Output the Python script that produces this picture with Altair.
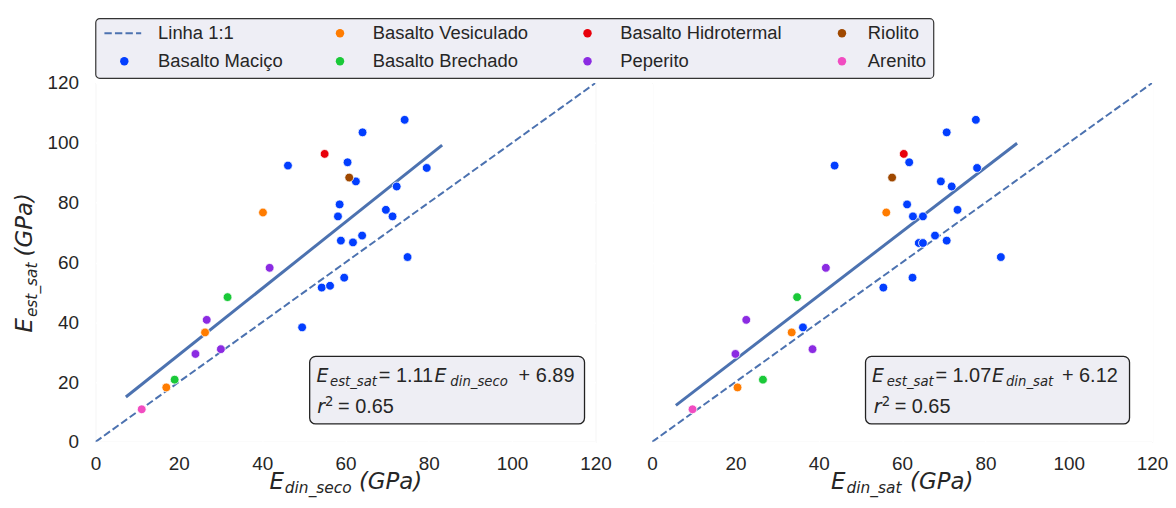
import altair as alt
import pandas as pd

# ---------------- data ----------------
categories = ["Basalto Maciço", "Basalto Vesiculado", "Basalto Brechado",
              "Basalto Hidrotermal", "Peperito", "Riolito", "Arenito"]
category_colors = ["#023eff", "#ff7c00", "#1ac938", "#e8000b", "#8b2be2", "#9f4800", "#f14cc1"]

left_category = (["Basalto Maciço"] * 19 + ["Basalto Vesiculado"] * 3 + ["Basalto Brechado"] * 2
                 + ["Basalto Hidrotermal"] + ["Peperito"] * 4 + ["Riolito"] + ["Arenito"])
left_x = [46.2, 60.5, 58.6, 58.2, 58.9, 61.8, 54.3, 56.3, 59.7, 49.6, 74.2, 64.1, 62.5, 79.5, 72.3, 69.7, 71.3, 64.0, 74.9,
          40.2, 26.3, 17.0,
          31.7, 19.0,
          55.0,
          41.8, 26.7, 24.0, 30.1,
          60.9,
          11.1]
left_y = [92.4, 93.5, 79.4, 75.4, 67.3, 66.7, 51.6, 52.2, 54.9, 38.3, 107.7, 103.5, 87.1, 91.6, 85.4, 77.6, 75.4, 69.0, 61.8,
          76.7, 36.6, 18.2,
          48.4, 20.8,
          96.3,
          58.2, 40.8, 29.4, 31.0,
          88.4,
          10.9]

right_category = left_category
right_x = [43.8, 61.7, 61.2, 62.6, 70.7, 64.0, 55.5, 65.0, 62.5, 36.2, 77.7, 70.7, 69.3, 78.0, 71.9, 73.3, 65.0, 67.9, 83.7,
           56.2, 33.5, 20.5,
           34.8, 26.6,
           60.4,
           41.7, 22.6, 20.0, 38.5,
           57.6,
           9.7]
right_y = [92.4, 93.5, 79.4, 75.4, 67.3, 66.5, 51.6, 66.5, 54.9, 38.3, 107.7, 103.5, 87.1, 91.6, 85.4, 77.6, 75.4, 69.0, 61.8,
           76.7, 36.6, 18.2,
           48.4, 20.8,
           96.3,
           58.2, 40.8, 29.4, 31.0,
           88.4,
           10.9]

identity_x = [0, 120]
left_fit_slope, left_fit_intercept, left_fit_range = 1.11, 6.89, [7.3, 83.2]
right_fit_slope, right_fit_intercept, right_fit_range = 1.07, 6.12, [5.7, 87.6]
r2_text = "= 0.65"
axis_ticks = [0, 20, 40, 60, 80, 100, 120]

# ---------------- style ----------------
W, H = 503, 361
TXT = "#262626"
LINE = "#4c72b0"
MATH = "DejaVu Sans"
SANS = "Liberation Sans"
one = pd.DataFrame({"k": [0]})


def txt(s, x, y, size, italic=False, angle=0, font=MATH, baseline="alphabetic", align="left"):
    kw = dict(text=s, align=align, baseline=baseline, font=font, fontSize=size, color=TXT)
    if italic:
        kw["fontStyle"] = "italic"
    if angle:
        kw["angle"] = angle
    return alt.Chart(one).mark_text(**kw).encode(x=alt.value(x), y=alt.value(y))


def panel(cat, xs, ys, slope, intercept, xr, first, sub_x, ann):
    df = pd.DataFrame({"cat": cat, "x": xs, "y": ys})
    xaxis = alt.Axis(values=axis_ticks, grid=True, gridColor="white", gridWidth=1.4, domain=False,
                     ticks=False, labelFont=SANS, labelFontSize=19, labelColor=TXT, labelPadding=13,
                     labelFlush=False)
    if first:
        yaxis = alt.Axis(values=axis_ticks, grid=True, gridColor="white", gridWidth=1.4, domain=False,
                         ticks=False, labelFont=SANS, labelFontSize=19, labelColor=TXT, labelPadding=17,
                         labelFlush=False)
    else:
        yaxis = alt.Axis(values=axis_ticks, grid=True, gridColor="white", gridWidth=1.4, domain=False,
                         ticks=False, labels=False)
    xs_ = alt.Scale(domain=[0, 120], nice=False, zero=False)
    ys_ = alt.Scale(domain=[0, 120], nice=False, zero=False)

    ident = alt.Chart(pd.DataFrame({"x": identity_x, "y": identity_x})).mark_line(
        color=LINE, strokeWidth=2, strokeDash=[7.4, 3.2], clip=True).encode(
        x=alt.X("x:Q", scale=xs_, axis=xaxis, title=None),
        y=alt.Y("y:Q", scale=ys_, axis=yaxis, title=None))
    fit = alt.Chart(pd.DataFrame({"x": xr, "y": [slope * v + intercept for v in xr]})).mark_line(
        color=LINE, strokeWidth=3).encode(x="x:Q", y="y:Q")
    pts = alt.Chart(df).mark_point(filled=True, size=78, stroke="white", strokeWidth=0.8, opacity=1).encode(
        x="x:Q", y="y:Q",
        color=alt.Color("cat:N", scale=alt.Scale(domain=categories, range=category_colors), legend=None))

    layers = [ident, fit, pts]
    # annotation box
    bx0, bx1 = ann["box"]
    layers.append(alt.Chart(one).mark_rect(fill="#eeeef4", stroke="#222222", strokeWidth=1.3,
                                           cornerRadius=6).encode(
        x=alt.value(bx0), x2=alt.value(bx1), y=alt.value(275), y2=alt.value(343)))
    e1, s1, eq, e2, s2, plus = ann["line1"]
    layers += [
        txt("E", e1, 300.5, 19, italic=True),
        txt("est_sat", s1, 305, 13.3, italic=True),
        txt(ann["eq"], eq, 300.5, 20, font=SANS),
        txt("E", e2, 300.5, 19, italic=True),
        txt(ann["sub"], s2, 305, 13.3, italic=True),
        txt(ann["plus"], plus, 300.5, 20, font=SANS),
        txt("r", 223, 332, 19, italic=True),
        txt("2", 231, 324.5, 13.3),
        txt(r2_text, 244, 332, 20, font=SANS),
    ]
    # x axis title
    ex, sx, gx, label = sub_x
    layers += [
        txt("E", ex, 408, 23, italic=True),
        txt(label, sx, 412, 15.5, italic=True),
        txt("(GPa)", gx, 408, 23, italic=True),
    ]
    if first:
        layers += [
            txt("E", -64, 251, 23, italic=True, angle=270),
            txt("est_sat", -59, 235.5, 15.5, italic=True, angle=270),
            txt("(GPa)", -64, 174.5, 23, italic=True, angle=270),
        ]
    return alt.layer(*layers).properties(width=W, height=H)


left = panel(left_category, left_x, left_y, left_fit_slope, left_fit_intercept, left_fit_range, True,
             (175, 190.5, 265, "din_seco"),
             {"box": (215.5, 492), "line1": (222.3, 236, 285, 341, 357, 425.7),
              "eq": "= 1.11", "sub": "din_seco", "plus": "+ 6.89"})
right = panel(right_category, right_x, right_y, right_fit_slope, right_fit_intercept, right_fit_range, False,
              (180, 195.5, 259.5, "din_sat"),
              {"box": (214.7, 480.3), "line1": (221.3, 236, 285, 342, 356, 412.3),
               "eq": "= 1.07", "sub": "din_sat", "plus": "+ 6.12"})

# ---------------- legend ----------------
legend_labels = ["Linha 1:1"] + categories[:1] + categories[1:3] + categories[3:5] + categories[5:7]
col_sym = [29, 246, 495, 751]
col_txt = [63, 279, 528, 777]
row_y = [15, 43]
leg_rows = []
for i, lab in enumerate(legend_labels):
    c, r = i // 2, i % 2
    leg_rows.append({"label": lab, "sx": col_sym[c], "tx": col_txt[c], "ty": row_y[r],
                     "hex": category_colors[categories.index(lab)] if lab in categories else LINE})
leg_df = pd.DataFrame(leg_rows)
leg_pts = alt.Chart(leg_df[leg_df.label != "Linha 1:1"]).mark_point(filled=True, size=72, opacity=1).encode(
    x=alt.X("sx:Q", scale=None, axis=None), y=alt.Y("ty:Q", scale=None, axis=None),
    color=alt.Color("hex:N", scale=None, legend=None))
leg_txt = alt.Chart(leg_df).mark_text(align="left", baseline="middle", font=SANS, fontSize=18.5, color=TXT).encode(
    x=alt.X("tx:Q", scale=None, axis=None), y=alt.Y("ty:Q", scale=None, axis=None), text="label:N")
leg_dash = alt.Chart(one).mark_rule(color=LINE, strokeWidth=2, strokeDash=[7.4, 3.2]).encode(
    x=alt.value(9), x2=alt.value(46), y=alt.value(row_y[0]))
legend = alt.layer(leg_dash, leg_pts, leg_txt).properties(
    width=843, height=60,
    view=alt.ViewBackground(fill="#eeeef5", stroke="#333333", strokeWidth=1.2, cornerRadius=4))

chart = alt.vconcat(legend, alt.hconcat(left, right, spacing=57, bounds="flush"),
                    spacing=5, bounds="flush").properties(
    padding={"top": 8, "left": 5, "right": -1, "bottom": 1}
).configure_view(fill="#eaeaf2", strokeWidth=0).configure(background="white")

chart.save("out.html", embed_options={"renderer": "svg", "actions": False})
